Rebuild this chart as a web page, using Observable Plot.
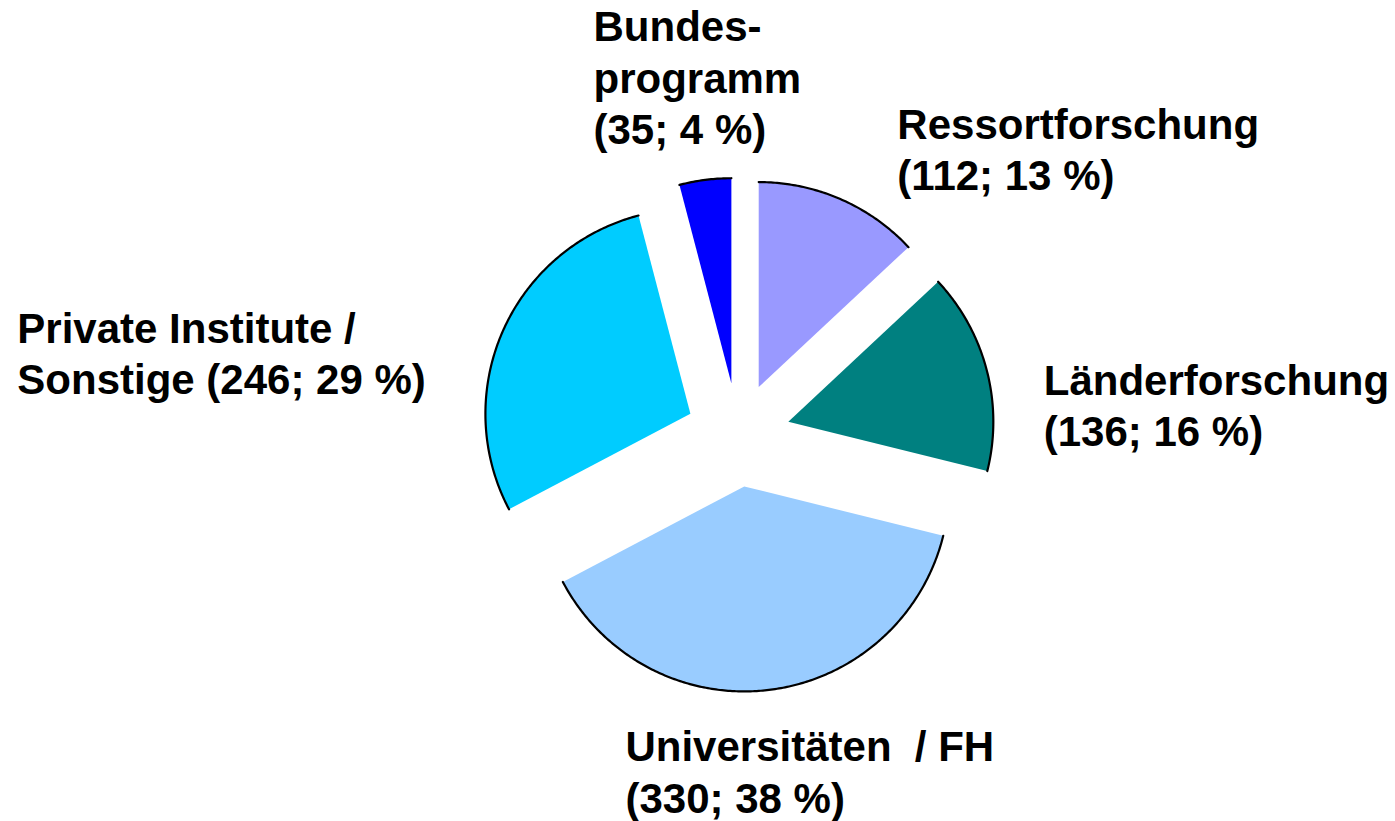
<!DOCTYPE html>
<html><head><meta charset="utf-8">
<script src="https://cdn.jsdelivr.net/npm/d3@7"></script>
<script src="https://cdn.jsdelivr.net/npm/@observablehq/plot@0.6"></script>
<style>
html,body{margin:0;padding:0;background:#fff;overflow:hidden;}
svg{display:block;}
svg text{white-space:pre;}
</style></head><body><div id="chart"></div>
<script>
// ---- data ----
const categories = ["Ressortforschung", "Länderforschung", "Universitäten  / FH", "Private Institute / Sonstige", "Bundesprogramm"];
const counts = [112, 136, 330, 246, 35];
const percents = [13, 16, 38, 29, 4];
const labelLines = [
  ["Ressortforschung", "(112; 13 %)"],
  ["Länderforschung", "(136; 16 %)"],
  ["Universitäten  / FH", "(330; 38 %)"],
  ["Private Institute /", "Sonstige (246; 29 %)"],
  ["Bundes-", "programm", "(35; 4 %)"]
];
const colors = ["#9999FF", "#008080", "#99CCFF", "#00CCFF", "#0000FF"];

// ---- layout ----
const W = 1395, H = 821;
const CX = 737.5, CY = 434.3, R = 205;   // pie centre & radius in pixels
const EXPLODE = 52 / R;                   // explode distance in radius units
// label nudges (pixels) from each slice's outer-arc midpoint to the label's top-left
const labelNudge = [[57, -96.5], [57, -12], [-143.5, 35], [-485.5, -25], [-111.7, -175]];

const rows = categories.map((c, i) => ({cat: c, count: counts[i], pct: percents[i], i}));
const arcs = d3.pie().sort(null).value(d => d.count)(rows);

const fillPts = [], arcPts = [], labels = [];
arcs.forEach(a => {
  const mid = (a.startAngle + a.endAngle) / 2;
  const ox = EXPLODE * Math.sin(mid), oy = EXPLODE * Math.cos(mid);
  const cat = a.data.cat;
  fillPts.push({cat, x: ox, y: oy});
  const n = Math.max(8, Math.ceil((a.endAngle - a.startAngle) / 0.01));
  for (let k = 0; k <= n; k++) {
    const t = a.startAngle + (a.endAngle - a.startAngle) * k / n;
    const p = {cat, x: ox + Math.sin(t), y: oy + Math.cos(t)};
    fillPts.push(p);
    arcPts.push(p);
  }
  fillPts.push({cat, x: ox, y: oy});
  const i = a.data.i;
  labels.push({
    text: labelLines[i].join("\n"),
    x: ox + Math.sin(mid) + labelNudge[i][0] / R,
    y: oy + Math.cos(mid) - labelNudge[i][1] / R
  });
});

const chart = Plot.plot({
  width: W, height: H, margin: 0,
  x: {domain: [-CX / R, (W - CX) / R], axis: null},
  y: {domain: [-(H - CY) / R, CY / R], axis: null},
  color: {domain: categories, range: colors},
  style: {background: "#fff"},
  marks: [
    Plot.line(fillPts, {x: "x", y: "y", z: "cat", fill: "cat", stroke: "none", curve: "linear"}),
    Plot.line(arcPts, {x: "x", y: "y", z: "cat", stroke: "#000", strokeWidth: 2.2, curve: "linear"}),
    Plot.text(labels, {
      x: "x", y: "y", text: "text",
      textAnchor: "start", lineAnchor: "top", lineHeight: 1.22,
      fontSize: 42, fontWeight: "bold",
      fontFamily: "'Liberation Sans', Arial, sans-serif", fill: "#000"
    })
  ]
});
document.getElementById("chart").appendChild(chart);
</script>
</body></html>
